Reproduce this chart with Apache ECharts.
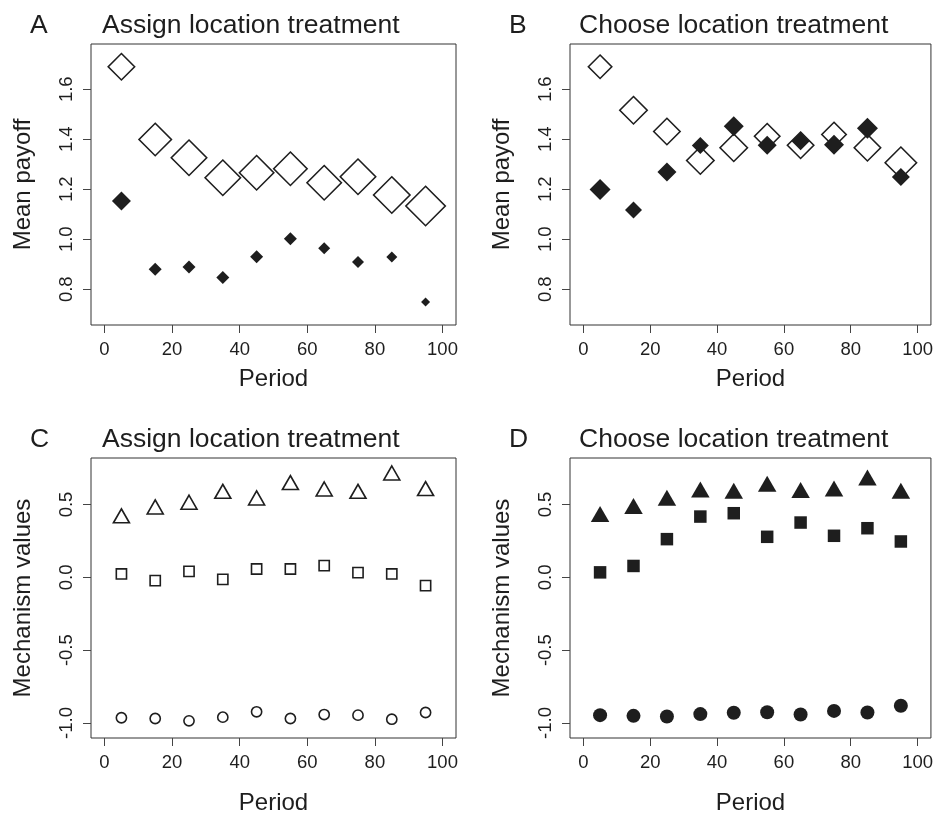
<!DOCTYPE html>
<html>
<head>
<meta charset="utf-8">
<script src="https://cdn.jsdelivr.net/npm/echarts@6/dist/echarts.min.js"></script>
<style>
  html, body { margin: 0; padding: 0; background: #fff; }
  #chart { width: 936px; height: 816px; }
</style>
</head>
<body>
<div id="chart"></div>
<script>
// ---------- data ----------
const periods = [5, 15, 25, 35, 45, 55, 65, 75, 85, 95];
const periodTicks = [0, 20, 40, 60, 80, 100];
const payoffTicks = [0.8, 1.0, 1.2, 1.4, 1.6];
const mechTicks = [-1.0, -0.5, 0.0, 0.5];

// Panel A: Assign location treatment, mean payoff
const assignOpen   = [1.690, 1.399, 1.326, 1.246, 1.266, 1.282, 1.226, 1.250, 1.177, 1.133];
const assignFilled = [1.153, 0.880, 0.889, 0.847, 0.930, 1.002, 0.964, 0.909, 0.929, 0.749];
// Panel B: Choose location treatment, mean payoff
const chooseOpen   = [1.690, 1.516, 1.431, 1.315, 1.366, 1.412, 1.376, 1.419, 1.366, 1.306];
const chooseFilled = [1.199, 1.117, 1.269, 1.375, 1.452, 1.376, 1.392, 1.378, 1.444, 1.249];

// relative marker scale (proportional symbol size in the original figure)
const assignOpenScale   = [28, 34, 37, 37, 36, 35, 36, 37, 38, 41];
const assignFilledScale = [19, 13, 13, 13, 13, 13, 12, 12, 11, 9];
const chooseOpenScale   = [25, 29, 28, 29, 29, 27, 28, 26, 28, 33];
const chooseFilledScale = [21, 17, 19, 17, 20, 19, 18, 20, 21, 18];

// Panel C: Assign location treatment, mechanism values
const assignTriangle = [0.422, 0.483, 0.515, 0.590, 0.545, 0.650, 0.606, 0.590, 0.716, 0.609];
const assignSquare   = [0.023, -0.023, 0.041, -0.014, 0.057, 0.057, 0.080, 0.032, 0.023, -0.057];
const assignCircle   = [-0.964, -0.969, -0.985, -0.960, -0.923, -0.969, -0.942, -0.946, -0.974, -0.928];
// Panel D: Choose location treatment, mechanism values
const chooseTriangle = [0.435, 0.490, 0.547, 0.602, 0.595, 0.643, 0.600, 0.609, 0.686, 0.595];
const chooseSquare   = [0.034, 0.078, 0.262, 0.417, 0.440, 0.278, 0.376, 0.285, 0.337, 0.246];
const chooseCircle   = [-0.946, -0.951, -0.955, -0.939, -0.930, -0.926, -0.942, -0.917, -0.928, -0.882];

// ---------- build ----------
const FONT = '"Liberation Sans", Arial, Helvetica, sans-serif';
const INK = '#1e1e1e';
const pairs = (ys) => periods.map((x, i) => [x, ys[i]]);
const STROKE = 1.6;

const grids = [
  { left: 91,  top: 44,  width: 365, height: 281 },
  { left: 570, top: 44,  width: 363, height: 281 },
  { left: 91,  top: 458, width: 365, height: 281 },
  { left: 570, top: 458, width: 363, height: 281 }
].map(g => Object.assign({ show: true, borderColor: '#333', borderWidth: 1, backgroundColor: 'transparent' }, g));

function xAxis(gi, gap) {
  return {
    type: 'value', gridIndex: gi, min: -4, max: 104, position: 'bottom',
    name: 'Period', nameLocation: 'middle', nameGap: gap,
    nameTextStyle: { fontFamily: FONT, fontSize: 24, color: INK },
    splitLine: { show: false },
    axisLine: { show: false, onZero: false },
    axisTick: { show: true, length: 8, customValues: periodTicks, lineStyle: { color: '#444', width: 1 } },
    axisLabel: { customValues: periodTicks, margin: 15, fontFamily: FONT, fontSize: 18.5, color: INK,
                 formatter: v => String(v) }
  };
}
function yAxis(gi, name, min, max, ticks) {
  return {
    type: 'value', gridIndex: gi, min: min, max: max, position: 'left',
    name: name, nameLocation: 'middle', nameGap: 56,
    nameTextStyle: { fontFamily: FONT, fontSize: 24, color: INK },
    splitLine: { show: false },
    axisLine: { show: false, onZero: false },
    axisTick: { show: true, length: 8, customValues: ticks, lineStyle: { color: '#444', width: 1 } },
    axisLabel: { customValues: ticks, rotate: 90, margin: 15, fontFamily: FONT, fontSize: 18.5, color: INK,
                 formatter: v => (Math.abs(v) < 1e-9 ? 0 : v).toFixed(1) }
  };
}

function openSeries(gi, ys, symbol, sizeFn) {
  return {
    type: 'scatter', xAxisIndex: gi, yAxisIndex: gi, data: pairs(ys),
    symbol: symbol, symbolSize: sizeFn,
    itemStyle: { color: 'rgba(255,255,255,0)', borderColor: INK, borderWidth: STROKE, opacity: 1 },
    emphasis: { disabled: true }, silent: true
  };
}
function filledSeries(gi, ys, symbol, sizeFn) {
  return {
    type: 'scatter', xAxisIndex: gi, yAxisIndex: gi, data: pairs(ys),
    symbol: symbol, symbolSize: sizeFn,
    itemStyle: { color: INK, opacity: 1 },
    emphasis: { disabled: true }, silent: true
  };
}
const byIndex = (arr, shrink) => (val, p) => arr[p.dataIndex] - shrink;

const series = [
  openSeries(0, assignOpen, 'diamond', byIndex(assignOpenScale, STROKE)),
  filledSeries(0, assignFilled, 'diamond', byIndex(assignFilledScale, 0)),
  openSeries(1, chooseOpen, 'diamond', byIndex(chooseOpenScale, STROKE)),
  filledSeries(1, chooseFilled, 'diamond', byIndex(chooseFilledScale, 0)),
  openSeries(2, assignTriangle, 'triangle', [16, 14]),
  openSeries(2, assignSquare, 'rect', [10.2, 10.2]),
  openSeries(2, assignCircle, 'circle', [10.2, 10.2]),
  filledSeries(3, chooseTriangle, 'triangle', [18.5, 16]),
  filledSeries(3, chooseSquare, 'rect', [12.5, 12.5]),
  filledSeries(3, chooseCircle, 'circle', [14, 14])
];

const titleStyle = { fontFamily: FONT, fontSize: 26.5, fontWeight: 'normal', color: INK };
const titles = [
  { text: 'A', left: 30, top: 12 },
  { text: 'Assign location treatment', left: 102, top: 12 },
  { text: 'B', left: 509, top: 12 },
  { text: 'Choose location treatment', left: 579, top: 12 },
  { text: 'C', left: 30, top: 426 },
  { text: 'Assign location treatment', left: 102, top: 426 },
  { text: 'D', left: 509, top: 426 },
  { text: 'Choose location treatment', left: 579, top: 426 }
].map(t => Object.assign({ padding: 0, textStyle: titleStyle }, t));

const chart = echarts.init(document.getElementById('chart'), null, { renderer: 'canvas' });
chart.setOption({
  backgroundColor: '#fff',
  animation: false,
  title: titles,
  grid: grids,
  xAxis: [xAxis(0, 42), xAxis(1, 42), xAxis(2, 53), xAxis(3, 53)],
  yAxis: [
    yAxis(0, 'Mean payoff', 0.657, 1.781, payoffTicks),
    yAxis(1, 'Mean payoff', 0.657, 1.781, payoffTicks),
    yAxis(2, 'Mechanism values', -1.103, 0.819, mechTicks),
    yAxis(3, 'Mechanism values', -1.103, 0.819, mechTicks)
  ],
  series: series
});
</script>
</body>
</html>
